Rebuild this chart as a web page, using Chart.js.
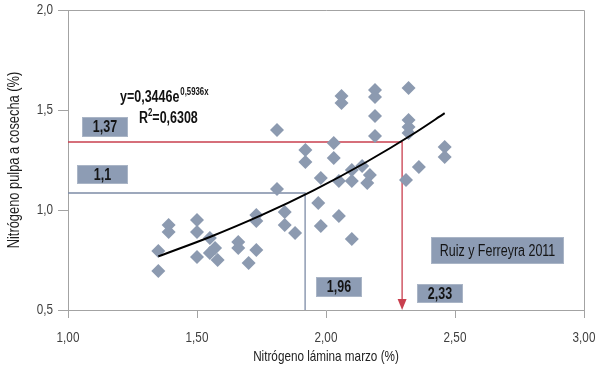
<!DOCTYPE html>
<html>
<head>
<meta charset="utf-8">
<script src="https://cdn.jsdelivr.net/npm/chart.js@4.4.1/dist/chart.umd.min.js"></script>
<style>
  html, body { margin: 0; padding: 0; background: #fff; }
  #wrap { width: 600px; height: 372px; }
</style>
</head>
<body>
<div id="wrap"><canvas id="nitroChart"></canvas></div>
<script>
// leaf N in March (x) vs. fruit pulp N at harvest (y)
var leafN = [1.35, 1.35, 1.39, 1.39, 1.50, 1.50, 1.50, 1.55, 1.57, 1.55, 1.58,
             1.66, 1.66, 1.70, 1.73, 1.73, 1.73, 1.81, 1.81, 1.84, 1.84, 1.88,
             1.92, 1.92, 1.97, 1.98, 1.98, 2.03, 2.03, 2.05, 2.05, 2.06, 2.06,
             2.10, 2.10, 2.10, 2.14, 2.17, 2.16, 2.19, 2.19, 2.19, 2.19, 2.31,
             2.32, 2.32, 2.32, 2.32, 2.36, 2.46, 2.46];
var pulpN = [0.795, 0.695, 0.925, 0.89, 0.95, 0.89, 0.765, 0.86, 0.81, 0.785, 0.75,
             0.84, 0.81, 0.735, 0.975, 0.945, 0.80, 1.40, 1.105, 0.99, 0.925, 0.885,
             1.30, 1.24, 1.035, 1.16, 0.92, 1.335, 1.26, 1.145, 0.97, 1.57, 1.535,
             1.20, 1.145, 0.855, 1.22, 1.175, 1.135, 1.60, 1.565, 1.47, 1.37, 1.15,
             1.61, 1.45, 1.415, 1.385, 1.215, 1.315, 1.265];

// exponential trend line y=0,3446e^(0,5936x), read at a few x
var trendX = [1.35, 1.55, 1.75, 1.95, 2.15, 2.35, 2.46];
var trendY = [0.768, 0.865, 0.974, 1.097, 1.235, 1.390, 1.484];

// reference cut-offs
var redCut = { x: 2.295, y: 1.34 };
var blueCut = { x: 1.919, y: 1.085 };

var xTitle = 'Nitrógeno lámina marzo (%)';
var yTitle = 'Nitrógeno pulpa a cosecha (%)';

var FONT = '"Liberation Sans", Arial, sans-serif';
var SQUEEZE = 0.78;   // the original uses a condensed face
var pointColor = '#8c9ab0';
var axisColor = '#a3a3a3';

var points = [];
for (var i = 0; i < leafN.length; i++) {
    points.push({ x: leafN[i], y: pulpN[i] });
}
var trend = [];
for (var j = 0; j < trendX.length; j++) {
    trend.push({ x: trendX[j], y: trendY[j] });
}

// label boxes, in data units
var boxes = [
    { text: '1,37', x0: 1.054, x1: 1.229, y0: 1.465, y1: 1.37, font: 'bold 16px ' },
    { text: '1,1', x0: 1.035, x1: 1.229, y0: 1.225, y1: 1.135, font: 'bold 16px ' },
    { text: '1,96', x0: 1.961, x1: 2.136, y0: 0.665, y1: 0.57, font: 'bold 16px ' },
    { text: '2,33', x0: 2.353, x1: 2.527, y0: 0.63, y1: 0.54, font: 'bold 16px ' },
    { text: 'Ruiz y Ferreyra 2011', x0: 2.407, x1: 2.919, y0: 0.865, y1: 0.735, font: '16px ' }
];

function comma(v, d) {
    return v.toFixed(d).replace('.', ',');
}

var canvas = document.getElementById('nitroChart');
var ctx = canvas.getContext('2d');

// draw all text horizontally squeezed so it looks like a condensed font
var rawFillText = ctx.fillText;
ctx.fillText = function(text, x, y) {
    this.save();
    this.translate(x, y);
    this.scale(SQUEEZE, 1);
    rawFillText.call(this, text, 0, 0);
    this.restore();
};

var decorations = {
    id: 'decorations',
    beforeDatasetsDraw: function(chart) {
        var c = chart.ctx, xs = chart.scales.x, ys = chart.scales.y, a = chart.chartArea;
        c.save();
        // frame top and right
        c.strokeStyle = axisColor;
        c.lineWidth = 1;
        c.beginPath();
        c.moveTo(a.left, a.top + 0.5);
        c.lineTo(a.right + 0.5, a.top + 0.5);
        c.lineTo(a.right + 0.5, a.bottom);
        c.stroke();

        // blue cut lines
        var bx = xs.getPixelForValue(blueCut.x), by = ys.getPixelForValue(blueCut.y);
        c.strokeStyle = '#7d8ca6';
        c.lineWidth = 1.3;
        c.beginPath();
        c.moveTo(a.left, by);
        c.lineTo(bx, by);
        c.lineTo(bx, a.bottom);
        c.stroke();

        // red cut lines + arrow
        var rx = xs.getPixelForValue(redCut.x), ry = ys.getPixelForValue(redCut.y);
        c.strokeStyle = '#c9404f';
        c.beginPath();
        c.moveTo(a.left, ry);
        c.lineTo(rx, ry);
        c.lineTo(rx, a.bottom - 8);
        c.stroke();
        c.fillStyle = '#c9404f';
        c.beginPath();
        c.moveTo(rx - 4.5, a.bottom - 11);
        c.lineTo(rx + 4.5, a.bottom - 11);
        c.lineTo(rx, a.bottom);
        c.closePath();
        c.fill();
        c.restore();
    },
    afterDatasetsDraw: function(chart) {
        var c = chart.ctx, xs = chart.scales.x, ys = chart.scales.y;
        c.save();
        boxes.forEach(function(b) {
            var l = Math.round(xs.getPixelForValue(b.x0)) + 0.5;
            var r = Math.round(xs.getPixelForValue(b.x1)) + 0.5;
            var t = Math.round(ys.getPixelForValue(b.y0)) + 0.5;
            var btm = Math.round(ys.getPixelForValue(b.y1)) + 0.5;
            c.fillStyle = '#8d9cb4';
            c.fillRect(l, t, r - l, btm - t);
            c.strokeStyle = '#aab5c6';
            c.lineWidth = 1;
            c.strokeRect(l, t, r - l, btm - t);
            c.fillStyle = '#141414';
            c.font = b.font + FONT;
            c.textAlign = 'center';
            c.textBaseline = 'middle';
            c.fillText(b.text, (l + r) / 2, (t + btm) / 2 + 1);
        });

        // equation
        c.fillStyle = '#111';
        c.textAlign = 'left';
        c.textBaseline = 'alphabetic';
        c.font = 'bold 16px ' + FONT;
        var ex = 120, ey = 102;
        c.fillText('y=0,3446e', ex, ey);
        var w = c.measureText('y=0,3446e').width * SQUEEZE;
        c.font = 'bold 10px ' + FONT;
        c.fillText('0,5936x', ex + w + 1, ey - 7);

        c.font = 'bold 16px ' + FONT;
        var rx = 139, ryy = 123;
        c.fillText('R', rx, ryy);
        var rw = c.measureText('R').width * SQUEEZE;
        c.font = 'bold 10px ' + FONT;
        c.fillText('2', rx + rw, ryy - 7);
        var sw = c.measureText('2').width * SQUEEZE;
        c.font = 'bold 16px ' + FONT;
        c.fillText('=0,6308', rx + rw + sw, ryy);
        c.restore();
    }
};

new Chart(ctx, {
    type: 'scatter',
    data: {
        datasets: [{
            label: 'Trend',
            type: 'line',
            data: trend,
            showLine: true,
            borderColor: '#000',
            borderWidth: 2,
            pointRadius: 0,
            cubicInterpolationMode: 'monotone',
            fill: false,
            order: 0
        }, {
            label: 'Data',
            data: points,
            pointStyle: 'rectRot',
            pointRadius: 7,
            pointHoverRadius: 7,
            backgroundColor: pointColor,
            borderColor: pointColor,
            borderWidth: 0,
            order: 1
        }]
    },
    options: {
        responsive: true,
        maintainAspectRatio: false,
        animation: false,
        events: [],
        layout: { padding: { top: 10, right: 16, left: 0, bottom: 0 } },
        plugins: {
            legend: { display: false },
            tooltip: { enabled: false }
        },
        scales: {
            x: {
                type: 'linear',
                min: 1, max: 3,
                afterFit: function(s) {
                    s.height = 62;
                    s.paddingLeft = 0;
                    s.paddingRight = 0;
                },
                ticks: {
                    stepSize: 0.5,
                    padding: 11,
                    color: '#404040',
                    font: { family: FONT, size: 15 },
                    callback: function(v) { return comma(v, 2); }
                },
                grid: { drawOnChartArea: false, tickLength: 8, color: axisColor },
                border: { color: axisColor },
                title: {
                    display: true,
                    text: xTitle,
                    color: '#222',
                    font: { family: FONT, size: 15 },
                    padding: { top: 0, bottom: 6 }
                }
            },
            y: {
                type: 'linear',
                min: 0.5, max: 2,
                afterFit: function(s) {
                    s.width = 68;
                    s.paddingTop = 0;
                    s.paddingBottom = 0;
                },
                ticks: {
                    stepSize: 0.5,
                    padding: 5,
                    color: '#404040',
                    font: { family: FONT, size: 15 },
                    callback: function(v) { return comma(v, 1); }
                },
                grid: { drawOnChartArea: false, tickLength: 10, color: axisColor },
                border: { color: axisColor },
                title: {
                    display: true,
                    text: yTitle,
                    color: '#1e1e1e',
                    font: { family: FONT, size: 16.5 },
                    padding: { top: 5, bottom: 0 }
                }
            }
        }
    },
    plugins: [decorations]
});
</script>
</body>
</html>
